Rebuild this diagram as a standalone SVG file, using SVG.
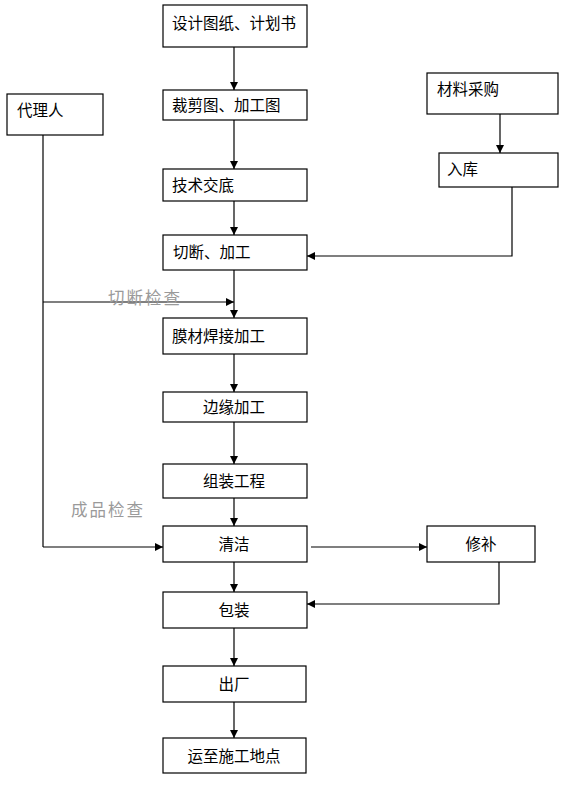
<svg xmlns="http://www.w3.org/2000/svg" width="565" height="786" viewBox="0 0 565 786">
<style>
rect{fill:#fff;stroke:#000;stroke-width:1.2}
text{font-family:"Noto Sans CJK SC","Noto Sans",sans-serif;font-size:15.5px;fill:#000}
.lbl{fill:#9a9a9a;font-size:16.5px;letter-spacing:2px}
.c{text-anchor:middle}
#connectors path{fill:none;stroke:#000;stroke-width:1.2;marker-end:url(#ah)}
#connectors .plain{marker-end:none}
</style>
<defs>
<marker id="ah" viewBox="0 0 10 10" refX="10" refY="5" markerWidth="8" markerHeight="8" markerUnits="userSpaceOnUse" orient="auto">
<path d="M0,0 L10,5 L0,10 z" fill="#000"/>
</marker>
</defs>
<rect x="0" y="0" width="565" height="786" style="fill:#fff;stroke:none"/>
<g id="connectors">
<path d="M234,47 V90"/>
<path d="M234,120 V169"/>
<path d="M234,201 V235"/>
<path d="M234,270 V318"/>
<path d="M234,354 V392"/>
<path d="M234,422 V464"/>
<path d="M234,498 V526"/>
<path d="M234,562 V592"/>
<path d="M234,628 V666"/>
<path d="M234,702 V738"/>
<path d="M500,114 V153"/>
<path d="M512,187 V256 H307"/>
<path class="plain" d="M43,135 V547"/>
<path d="M43,302 H234"/>
<path d="M43,547 H163"/>
<path d="M311,547 H427"/>
<path d="M499,562 V604 H307"/>
</g>
<g id="n1"><rect x="163" y="5" width="144" height="42"/><text x="172" y="29">设计图纸、计划书</text></g>
<g id="n2"><rect x="163" y="90" width="144" height="30"/><text x="172" y="111">裁剪图、加工图</text></g>
<g id="n3"><rect x="163" y="169" width="144" height="32"/><text x="172" y="191">技术交底</text></g>
<g id="n4"><rect x="163" y="235" width="144" height="35"/><text x="173" y="258">切断、加工</text></g>
<g id="n5"><rect x="163" y="318" width="144" height="36"/><text x="172" y="342">膜材焊接加工</text></g>
<g id="n6"><rect x="163" y="392" width="144" height="30"/><text x="234" y="413" class="c">边缘加工</text></g>
<g id="n7"><rect x="163" y="464" width="144" height="34"/><text x="234" y="487" class="c">组装工程</text></g>
<g id="n8"><rect x="163" y="526" width="144" height="36"/><text x="234" y="550" class="c">清洁</text></g>
<g id="n9"><rect x="163" y="592" width="144" height="36"/><text x="234" y="616" class="c">包装</text></g>
<g id="n10"><rect x="163" y="666" width="143" height="36"/><text x="234" y="690" class="c">出厂</text></g>
<g id="n11"><rect x="163" y="738" width="143" height="35"/><text x="234" y="762" class="c">运至施工地点</text></g>
<g id="n12"><rect x="7" y="94" width="96" height="41"/><text x="17" y="116">代理人</text></g>
<g id="n13"><rect x="427" y="73" width="131" height="41"/><text x="437" y="95">材料采购</text></g>
<g id="n14"><rect x="439" y="153" width="119" height="34"/><text x="447" y="175">入库</text></g>
<g id="n15"><rect x="427" y="526" width="108" height="36"/><text x="481" y="550" class="c">修补</text></g>
<text class="lbl" x="108" y="304">切断检查</text>
<text class="lbl" x="71" y="516">成品检查</text>
</svg>
